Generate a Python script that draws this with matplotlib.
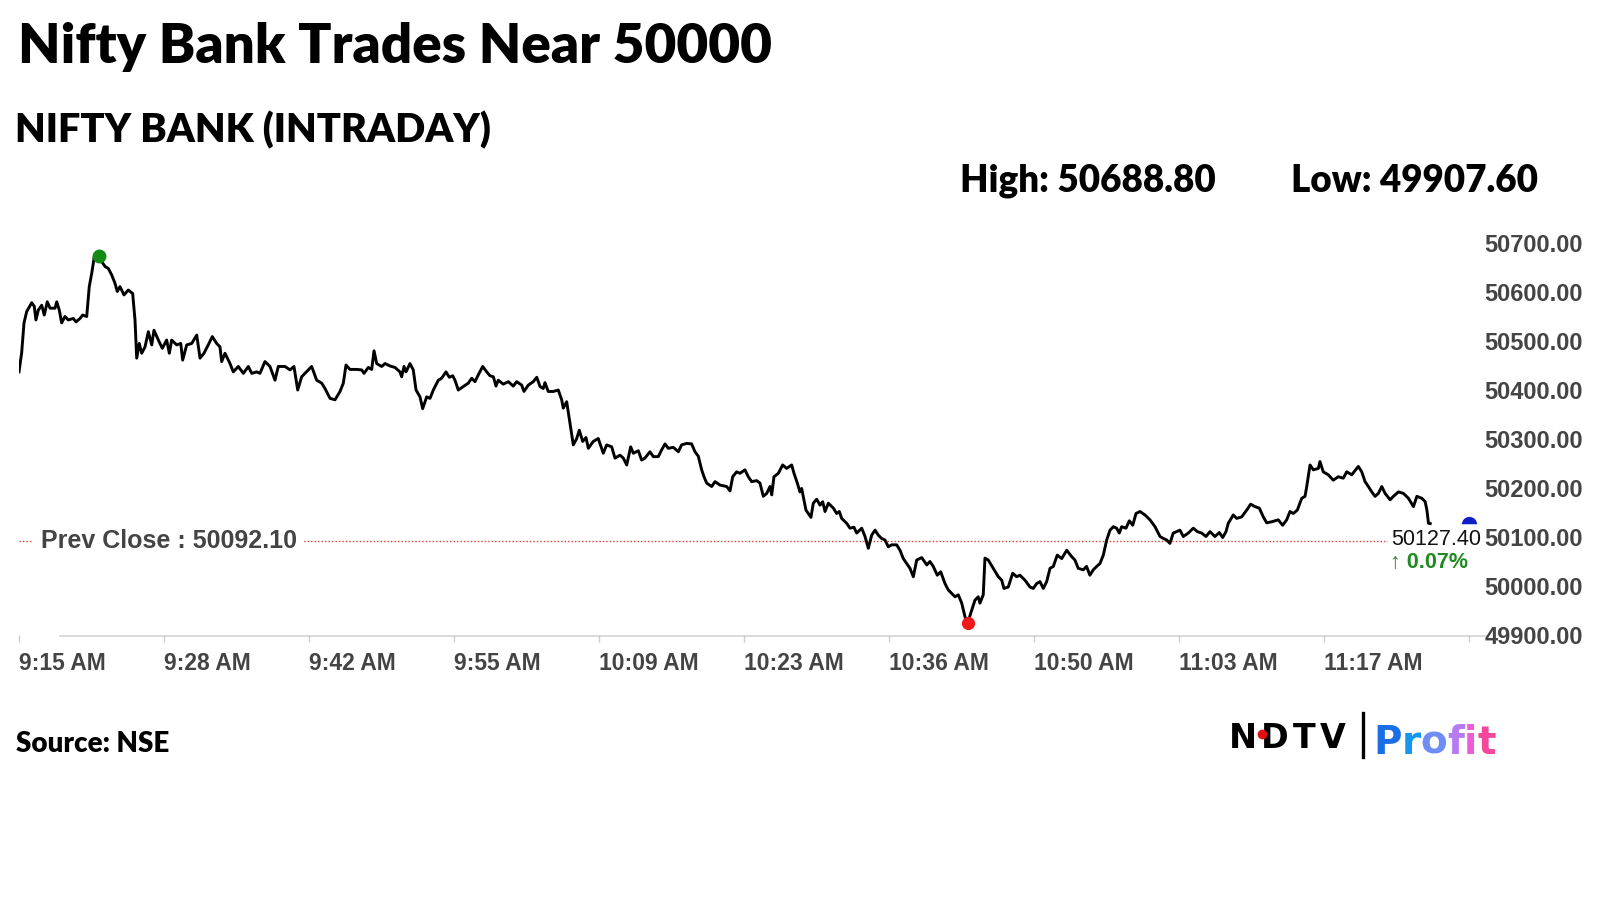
import matplotlib
matplotlib.use("Agg")
import matplotlib.pyplot as plt
from matplotlib.lines import Line2D
from matplotlib.offsetbox import TextArea, HPacker, AnnotationBbox
from matplotlib.ticker import FormatStrFormatter
import numpy as np

# ---------------- data ----------------
title = "Nifty Bank Trades Near 50000"
subtitle = "NIFTY BANK (INTRADAY)"
source = "Source: NSE"
day_high = 50688.80
day_low = 49907.60
prev_close = 50092.10
last_price = 50127.40
change_pct = 0.07

# minutes after 9:15 AM
minutes = [
    0.00, 0.25, 0.47, 0.72, 1.19, 1.43, 1.59, 1.81, 2.13, 2.37, 2.65, 2.91, 3.38, 3.54, 3.78, 4.00,
    4.31, 4.62, 5.09, 5.35, 5.72, 5.97, 6.35, 6.59, 6.82, 7.06, 7.50, 7.76, 8.07, 8.38, 8.69, 9.00,
    9.22, 9.47, 9.85, 10.25, 10.66, 10.88, 11.04, 11.28, 11.51, 11.82, 12.13, 12.45, 12.66, 13.07,
    13.44, 13.85, 14.10, 14.32, 14.79, 15.17, 15.35, 15.73, 16.20, 16.67, 16.98, 17.35, 17.75, 18.13,
    18.54, 18.85, 19.01, 19.32, 19.79, 20.10, 20.57, 21.04, 21.51, 21.83, 22.29, 22.60, 23.07, 23.54,
    24.01, 24.32, 24.95, 25.42, 25.79, 26.14, 26.51, 26.82, 27.45, 27.92, 28.39, 28.70, 29.17, 29.64,
    30.11, 30.42, 30.67, 31.04, 31.67, 32.14, 32.36, 32.76, 33.08, 33.30, 33.55, 34.02, 34.33, 34.80,
    35.27, 35.73, 35.89, 36.11, 36.30, 36.67, 36.98, 37.24, 37.61, 37.86, 38.24, 38.55, 38.86, 39.33,
    39.64, 40.05, 40.36, 40.68, 40.89, 41.20, 41.67, 42.14, 42.46, 42.77, 43.08, 43.49, 43.87, 44.18,
    44.49, 44.74, 44.95, 45.42, 45.89, 46.36, 46.68, 47.15, 47.36, 47.77, 48.24, 48.56, 48.87, 49.17,
    49.33, 49.64, 50.11, 50.58, 50.90, 51.05, 51.37, 51.68, 51.99, 52.31, 52.55, 52.87, 53.18, 53.40,
    53.86, 54.33, 54.80, 55.12, 55.59, 55.90, 56.37, 56.68, 57.00, 57.37, 57.62, 58.09, 58.40, 58.71,
    59.18, 59.49, 59.96, 60.28, 60.59, 60.90, 61.37, 61.84, 62.15, 62.62, 63.09, 63.40, 63.71, 64.03,
    64.25, 64.50, 64.97, 65.28, 65.75, 66.38, 66.69, 66.94, 67.31, 67.62, 68.09, 68.40, 68.72, 69.19,
    69.50, 69.81, 70.13, 70.44, 70.60, 70.81, 71.22, 71.63, 72.00, 72.47, 72.69, 73.00, 73.25, 73.41,
    73.81, 74.28, 74.50, 74.82, 75.13, 75.38, 75.60, 75.91, 76.38, 76.69, 76.94, 77.16, 77.63, 77.94,
    78.31, 78.57, 79.04, 79.35, 79.66, 79.98, 80.29, 80.59, 80.91, 81.22, 81.53, 81.85, 82.32, 82.63,
    82.94, 83.26, 83.57, 83.88, 84.20, 84.67, 85.14, 85.44, 85.75, 86.13, 86.45, 86.85, 87.16, 87.48,
    87.79, 88.10, 88.42, 88.73, 88.98, 89.26, 89.66, 89.97, 90.13, 90.44, 90.60, 90.91, 91.38, 91.85,
    92.17, 92.38, 92.79, 93.20, 93.57, 93.88, 94.35, 94.82, 95.13, 95.45, 95.76, 96.07, 96.39, 96.70,
    97.01, 97.38, 97.80, 98.27, 98.73, 99.04, 99.35, 99.82, 100.13, 100.44, 100.76, 101.08, 101.39,
    101.70, 102.02, 102.33, 102.64, 102.95, 103.20, 103.42, 103.83, 104.14, 104.46, 104.77, 105.14,
    105.61, 106.08, 106.55, 107.02, 107.33, 107.64, 107.95, 108.26, 108.58, 108.89, 109.20, 109.67,
    110.14, 110.52, 110.93, 111.33, 111.71, 112.17, 112.58, 112.90, 113.21, 113.42, 113.89, 114.21,
    114.68, 115.15, 115.52, 115.93, 116.33, 116.71, 117.02, 117.49, 118.11, 118.52, 118.90, 119.21,
    119.52, 119.90, 120.31, 120.62, 120.78, 121.09, 121.40, 121.87, 122.02, 122.33, 122.80, 123.27,
    123.74, 124.21, 124.53, 125.00, 125.62, 125.94, 126.25, 126.56, 126.88, 127.19, 127.50, 127.82,
    128.13, 128.60, 128.91, 129.38, 129.85, 130.32, 130.79, 131.11, 131.58, 131.89, 132.05, 132.20,
    132.36,
]

prices = [
    50437, 50476, 50537, 50560, 50578, 50571, 50543, 50563, 50573, 50553, 50580, 50567, 50567, 50580, 50563, 50537,
    50550, 50543, 50546, 50539, 50546, 50553, 50550, 50611, 50638, 50672, 50673, 50662, 50652, 50648, 50635, 50618,
    50601, 50611, 50594, 50604, 50597, 50543, 50465, 50495, 50475, 50488, 50519, 50492, 50522, 50502,
    50485, 50502, 50475, 50502, 50492, 50495, 50461, 50492, 50495, 50512, 50465, 50475, 50492, 50509,
    50495, 50488, 50458, 50475, 50454, 50437, 50448, 50434, 50448, 50434, 50437, 50434, 50458, 50448,
    50420, 50448, 50448, 50441, 50448, 50400, 50427, 50434, 50448, 50420, 50414, 50403, 50383, 50380,
    50397, 50414, 50451, 50442, 50442, 50441, 50434, 50446, 50442, 50480, 50454, 50448, 50454, 50449,
    50446, 50437, 50427, 50448, 50437, 50454, 50441, 50400, 50386, 50362, 50386, 50383, 50400, 50420,
    50424, 50437, 50426, 50429, 50420, 50400, 50407, 50414, 50424, 50417, 50431, 50448, 50437, 50429,
    50427, 50408, 50420, 50412, 50417, 50408, 50417, 50410, 50397, 50410, 50417, 50426, 50407, 50403,
    50415, 50397, 50397, 50400, 50380, 50363, 50376, 50332, 50288, 50301, 50318, 50295, 50303, 50281,
    50295, 50301, 50271, 50288, 50284, 50261, 50267, 50261, 50247, 50284, 50271, 50276, 50257, 50261,
    50274, 50264, 50264, 50278, 50290, 50281, 50283, 50274, 50288, 50291, 50290, 50274, 50265, 50237,
    50223, 50210, 50203, 50213, 50206, 50203, 50194, 50223, 50233, 50230, 50237, 50223, 50213, 50215,
    50210, 50183, 50189, 50203, 50186, 50223, 50230, 50247, 50240, 50247, 50230, 50210, 50192, 50199,
    50155, 50140, 50169, 50177, 50165, 50172, 50152, 50169, 50159, 50148, 50152, 50138, 50128, 50118,
    50120, 50108, 50118, 50101, 50077, 50104, 50114, 50104, 50097, 50094, 50080, 50084, 50084, 50073,
    50056, 50046, 50036, 50019, 50053, 50058, 50043, 50050, 50040, 50022, 50029, 50005, 49992, 49985,
    49978, 49982, 49965, 49937, 49924, 49944, 49971, 49978, 49965, 49982, 50057, 50053, 50036, 50019,
    50012, 49995, 49998, 50026, 50019, 50022, 50012, 49998, 49995, 50005, 50009, 49995, 50009, 50036,
    50040, 50063, 50056, 50073, 50060, 50053, 50036, 50033, 50040, 50022, 50033, 50040, 50046,
    50063, 50094, 50114, 50121, 50118, 50108, 50121, 50118, 50133, 50124, 50148, 50152,
    50145, 50135, 50121, 50101, 50097, 50094, 50087, 50108, 50111, 50114, 50101, 50108,
    50118, 50111, 50108, 50101, 50111, 50101, 50109, 50099, 50111, 50128, 50145, 50138,
    50141, 50155, 50167, 50162, 50159, 50141, 50129, 50131, 50135, 50124, 50135, 50152,
    50148, 50155, 50179, 50183, 50203, 50247, 50237, 50240, 50254, 50233, 50227, 50216,
    50223, 50220, 50233, 50227, 50244, 50233, 50213, 50203, 50192, 50183, 50189, 50203,
    50189, 50176, 50183, 50192, 50189, 50179, 50162, 50183, 50179, 50172, 50155, 50128,
    50127.4,
]

x_tick_minutes = [0, 13.6, 27.2, 40.8, 54.4, 68.0, 81.6, 95.2, 108.8, 122.4, 136.0]
x_tick_labels = ["9:15 AM", "9:28 AM", "9:42 AM", "9:55 AM", "10:09 AM", "10:23 AM",
                 "10:36 AM", "10:50 AM", "11:03 AM", "11:17 AM", ""]
y_ticks = [49900, 50000, 50100, 50200, 50300, 50400, 50500, 50600, 50700]

# ---------------- figure ----------------
W, H = 1600, 900
fig = plt.figure(figsize=(16, 9), dpi=100)
fig.patch.set_facecolor("white")


def fx(px):
    return px / W


def fy(py):
    return 1 - py / H


HEAD = ["Lato", "DejaVu Sans"]
ARIAL = ["Liberation Sans", "DejaVu Sans"]

fig.text(fx(18), fy(63), title, family=HEAD, fontweight="heavy", fontsize=39.5,
         va="baseline", ha="left", color="black")
fig.text(fx(15), fy(142), subtitle, family=HEAD, fontweight="heavy", fontsize=28.5,
         va="baseline", ha="left", color="black")
fig.text(fx(960), fy(192), f"High: {day_high:.2f}", family=HEAD, fontweight="heavy",
         fontsize=26.5, va="baseline", ha="left", color="black")
fig.text(fx(1291), fy(192), f"Low: {day_low:.2f}", family=HEAD, fontweight="heavy",
         fontsize=26.5, va="baseline", ha="left", color="black")
fig.text(fx(16), fy(744), source, family=HEAD, fontweight="heavy", fontsize=20,
         va="center", ha="left", color="black")

ax = fig.add_axes([fx(19), fy(635), (1469 - 19) / W, (635 - 243) / H])
ax.set_xlim(0, 136)
ax.set_ylim(49900, 50700)
for s in ax.spines.values():
    s.set_visible(False)

t = np.array(minutes)
p = np.array(prices)

# prev close dotted line
ax.axhline(prev_close, color="#e23c3c", lw=1.0, ls=(0, (1, 1.5)), zorder=1)
ax.text(2.06, prev_close, f"Prev Close : {prev_close:.2f}", family=ARIAL, fontweight="bold",
        fontsize=18, color="#444444", va="center", ha="left", zorder=4,
        bbox=dict(boxstyle="square,pad=0.3", fc="white", ec="none"))

# price line
ax.plot(t, p, color="black", lw=2.1, zorder=3, solid_joinstyle="round")

# high / low markers
i_hi = int(np.argmax(p))
i_lo = int(np.argmin(p))
ax.plot(t[i_hi], p[i_hi], "o", color="#138a13", ms=9, zorder=5, clip_on=False)
ax.plot(t[i_lo], p[i_lo], "o", color="#ee1a1a", ms=8.5, zorder=5, clip_on=False)

# last price marker (half dot at axis end)
ax.plot(136, last_price, marker="o", ms=11, color="#1020c8", fillstyle="top",
        markerfacecoloralt="white", markeredgewidth=0, zorder=5, clip_on=False)

# last price annotation
ax.text(128.7, 50094, f"{last_price:.2f}", family=ARIAL, fontsize=15.5, color="#111111",
        va="center", ha="left", zorder=6,
        bbox=dict(boxstyle="square,pad=0.15", fc="white", ec="none"))
ax.text(128.6, 50047, f"\u2191 {change_pct:.2f}%", family=ARIAL, fontweight="bold",
        fontsize=15.5, color="#1f8a1f", va="center", ha="left", zorder=6)

# bottom axis line
ax.plot([3.85, 137.8], [49898, 49898], color="#d4d4d4", lw=1.2, zorder=0, clip_on=False)

# ticks
ax.set_xticks(x_tick_minutes)
ax.set_xticklabels(x_tick_labels)
ax.tick_params(axis="x", length=5, width=1, color="#cccccc", pad=7,
               labelsize=16.5, labelcolor="#444444")
for lbl in ax.get_xticklabels():
    lbl.set_ha("left")
    lbl.set_family(ARIAL)
    lbl.set_fontweight("bold")

ax.yaxis.tick_right()
ax.set_yticks(y_ticks)
ax.yaxis.set_major_formatter(FormatStrFormatter("%.2f"))
ax.tick_params(axis="y", length=0, pad=11, labelsize=17, labelcolor="#444444")
for lbl in ax.get_yticklabels():
    lbl.set_family(ARIAL)
    lbl.set_fontweight("bold")

# ---------------- logo ----------------
ndtv = [TextArea(c, textprops=dict(family="DejaVu Sans", fontweight="heavy", fontsize=24,
                                   color="black")) for c in "NDTV"]
pack1 = HPacker(children=ndtv, align="baseline", pad=0, sep=3)
fig.add_artist(AnnotationBbox(pack1, (fx(1229), fy(755)), xycoords="figure fraction",
                              box_alignment=(0, 0), frameon=False))
fig.add_artist(Line2D([fx(1262)], [fy(734)], marker="o", ms=6, color="#e01010",
                      linestyle="none", zorder=10))
fig.add_artist(Line2D([fx(1363), fx(1363)], [fy(713), fy(757)], color="black", lw=2.4))

profit_colors = ["#1a6ee6", "#1597ee", "#6f8ef5", "#b67af2", "#ee5ad8", "#f2479a"]
profit = [TextArea(c, textprops=dict(family="DejaVu Sans", fontweight="bold",
                                     fontsize=28, color=col))
          for c, col in zip("Profit", profit_colors)]
pack2 = HPacker(children=profit, align="baseline", pad=0, sep=0)
fig.add_artist(AnnotationBbox(pack2, (fx(1373), fy(762)), xycoords="figure fraction",
                              box_alignment=(0, 0), frameon=False))

fig.savefig("out.png", dpi=100, facecolor="white")
